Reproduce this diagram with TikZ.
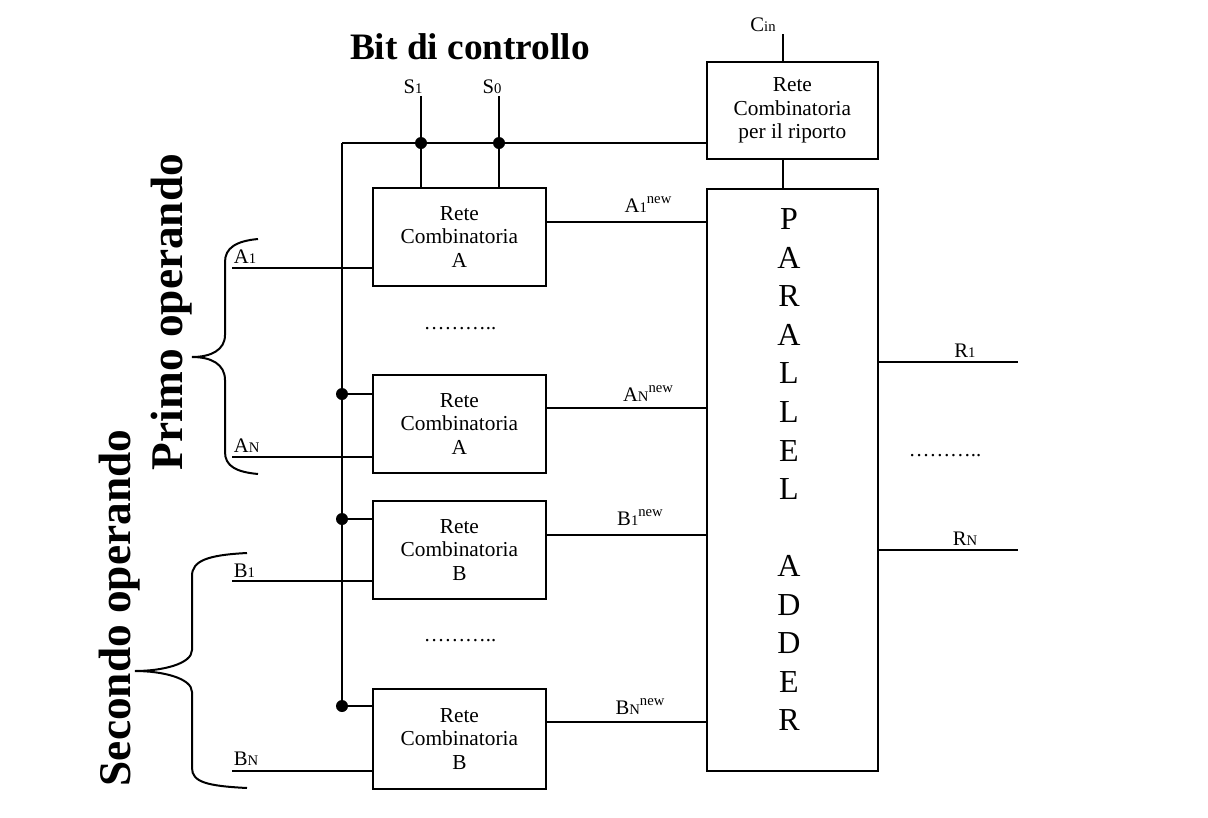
\documentclass[tikz,border=0pt]{standalone}
\usepackage{fontspec}
\setmainfont{Liberation Serif}
\newcommand\lsub[1]{{\fontsize{11pt}{11pt}\selectfont #1}}
\newcommand\lsup[1]{\raisebox{0.42em}{\fontsize{11pt}{11pt}\selectfont #1}}
\begin{document}
\begin{tikzpicture}[x=0.75pt,y=-0.75pt,line width=1.3pt,
  blk/.style={draw,line width=1.3pt,anchor=north west,inner sep=0pt,align=center,
    minimum width=129.75pt,minimum height=73.5pt,font=\fontsize{16}{17.6}\selectfont},
  lbl/.style={anchor=base,inner sep=0pt,font=\fontsize{15.5}{16}\selectfont},
  jdot/.style={circle,fill,inner sep=0pt,minimum size=9pt},
  big/.style={inner sep=0pt,font=\bfseries\fontsize{34}{36}\selectfont},
  brace/.style={line width=1.5pt}]
\useasboundingbox (0,0) rectangle (1208,818);

% title
\node[inner sep=0pt,font=\bfseries\fontsize{28}{30}\selectfont] (title) at (470,47) {Bit di controllo};

% blocks
\node[blk] (ra1) at (372,187) {Rete\\Combinatoria\\A};
\node[blk] (ran) at (372,374) {Rete\\Combinatoria\\A};
\node[blk] (rb1) at (372,500) {Rete\\Combinatoria\\B};
\node[blk,minimum height=75pt] (rbn) at (372,688) {Rete\\Combinatoria\\B};
\node[blk,minimum width=128.25pt,minimum height=72.75pt] (carry) at (706,61) {Rete\\Combinatoria\\per il riporto};
\node[draw,line width=1.3pt,anchor=north west,inner sep=0pt,minimum width=128.25pt,minimum height=436.5pt] (adder) at (706,188) {};
\node[anchor=north,inner sep=0pt,align=center,font=\fontsize{24}{28.9}\selectfont] (addtxt) at (789,208)
  {P\\A\\R\\A\\L\\L\\E\\L\\[28.9pt]A\\D\\D\\E\\R};

% control bus
\coordinate (tl) at (342,143);
\coordinate (bb) at (342,706);
\draw (tl) -- (bb);
\draw (tl) -- (carry.west |- tl);
\coordinate (s1) at (421,96);
\coordinate (s0) at (499,96);
\draw (s1) -- (s1 |- ra1.north);
\draw (s0) -- (s0 |- ra1.north);
\node[jdot] (j1) at (s1 |- tl) {};
\node[jdot] (j0) at (s0 |- tl) {};
\node[lbl] (ls1) at (413,93) {S\lsub{1}};
\node[lbl] (ls0) at (492,93) {S\lsub{0}};

\node[jdot] (jan) at (342,394) {};
\node[jdot] (jb1) at (342,519) {};
\node[jdot] (jbn) at (342,706) {};
\draw (jan.center) -- (ran.west |- jan);
\draw (jb1.center) -- (rb1.west |- jb1);
\draw (jbn.center) -- (rbn.west |- jbn);

% carry in
\coordinate (cin) at (783,34);
\draw (cin) -- (cin |- carry.north);
\node[lbl] (lcin) at (763,31) {C\lsub{in}};
\draw (cin |- carry.south) -- (cin |- adder.north);

% inputs
\coordinate (ia1) at (232,268);
\coordinate (ian) at (232,457);
\coordinate (ib1) at (232,581);
\coordinate (ibn) at (232,771);
\draw (ia1) -- (ra1.west |- ia1);
\draw (ian) -- (ran.west |- ian);
\draw (ib1) -- (rb1.west |- ib1);
\draw (ibn) -- (rbn.west |- ibn);
\node[lbl,anchor=base west] (la1) at (233,263) {A\lsub{1}};
\node[lbl,anchor=base west] (lan) at (233,452) {A\lsub{N}};
\node[lbl,anchor=base west] (lb1) at (233,577) {B\lsub{1}};
\node[lbl,anchor=base west] (lbn) at (233,765) {B\lsub{N}};

% outputs of blocks
\coordinate (oa1) at (0,222);
\coordinate (oan) at (0,408);
\coordinate (ob1) at (0,535);
\coordinate (obn) at (0,722);
\draw (ra1.east |- oa1) -- (adder.west |- oa1);
\draw (ran.east |- oan) -- (adder.west |- oan);
\draw (rb1.east |- ob1) -- (adder.west |- ob1);
\draw (rbn.east |- obn) -- (adder.west |- obn);
\node[lbl] (la1n) at (648,212) {A\lsub{1}\lsup{new}};
\node[lbl] (lann) at (648,401) {A\lsub{N}\lsup{new}};
\node[lbl] (lb1n) at (640,525) {B\lsub{1}\lsup{new}};
\node[lbl] (lbnn) at (640,714) {B\lsub{N}\lsup{new}};

% dots
\node[lbl] (dA) at (460,329) {………..};
\node[lbl] (dB) at (460,641) {………..};
\node[lbl] (dR) at (945,456) {………..};

% results
\coordinate (r1) at (1018,362);
\coordinate (rn) at (1018,550);
\draw (adder.east |- r1) -- (r1);
\draw (adder.east |- rn) -- (rn);
\node[lbl] (lr1) at (965,357) {R\lsub{1}};
\node[lbl] (lrn) at (965,545) {R\lsub{N}};

% braces
\draw[brace] (258,239) .. controls (236,241) and (225,248) .. (225,262) -- (225,335)
  .. controls (225,350) and (211,357) .. (192,357)
  .. controls (211,357) and (225,364) .. (225,380) -- (225,452)
  .. controls (225,466) and (236,472) .. (258,474);
\draw[brace] (247,553) .. controls (207,555) and (192,561) .. (192,576) -- (192,650)
  .. controls (192,664) and (162,671) .. (135,671)
  .. controls (162,671) and (192,678) .. (192,692) -- (192,768)
  .. controls (192,782) and (207,786) .. (247,788);
\node[big,rotate=90] (primo) at (172,312) {Primo operando};
\node[big,rotate=90] (secondo) at (120,608) {Secondo operando};
\end{tikzpicture}
\end{document}
